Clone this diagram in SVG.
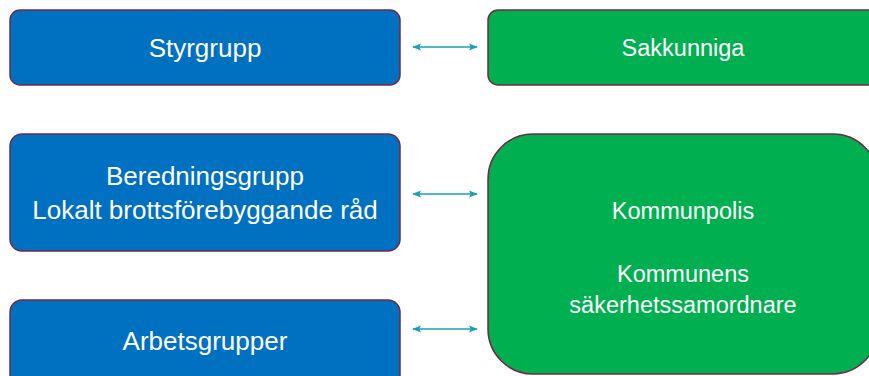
<svg xmlns="http://www.w3.org/2000/svg" width="869" height="376" viewBox="0 0 869 376">
<defs>
<marker id="ah" viewBox="0 0 10 10" refX="9" refY="5" markerWidth="6" markerHeight="6" orient="auto-start-reverse">
<path d="M0,1 L10,5 L0,9 L2,5 z" fill="#17a2b2"/>
</marker>
</defs>
<style>
.blue{fill:#0070c0;stroke:#6e2a48;stroke-width:1.5}
.green{fill:#00b050;stroke:#6e2a48;stroke-width:1.5}
.t{fill:#fff;font-family:"Liberation Sans",Arial,sans-serif;text-anchor:middle}
.big{font-size:26px}
.small{font-size:23.5px}
.c{stroke:#17a2b2;stroke-width:1.5;fill:none;marker-start:url(#ah);marker-end:url(#ah)}
</style>
<rect width="869" height="376" fill="#fff"/>
<g id="styrgrupp">
<rect class="blue" x="10" y="10" width="390" height="75" rx="10"/>
<text class="t big" x="205" y="57">Styrgrupp</text>
</g>
<g id="sakkunniga">
<rect class="green" x="488" y="10" width="390" height="75" rx="10"/>
<text class="t small" x="683" y="56">Sakkunniga</text>
</g>
<g id="beredningsgrupp">
<rect class="blue" x="10" y="134" width="390" height="117" rx="12"/>
<text class="t big" x="205" y="185">Beredningsgrupp</text>
<text class="t big" x="205" y="219">Lokalt brottsförebyggande råd</text>
</g>
<g id="kommunpolis">
<rect class="green" x="488" y="134" width="390" height="240" rx="45"/>
<text class="t small" x="683" y="219">Kommunpolis</text>
<text class="t small" x="683" y="282">Kommunens</text>
<text class="t small" x="683" y="313">säkerhetssamordnare</text>
</g>
<g id="arbetsgrupper">
<rect class="blue" x="10" y="300" width="390" height="100" rx="12"/>
<text class="t big" x="205" y="350">Arbetsgrupper</text>
</g>
<g id="connectors">
<line class="c" x1="413" y1="47" x2="477" y2="47"/>
<line class="c" x1="413" y1="194" x2="477" y2="194"/>
<line class="c" x1="413" y1="329" x2="477" y2="329"/>
</g>
</svg>
